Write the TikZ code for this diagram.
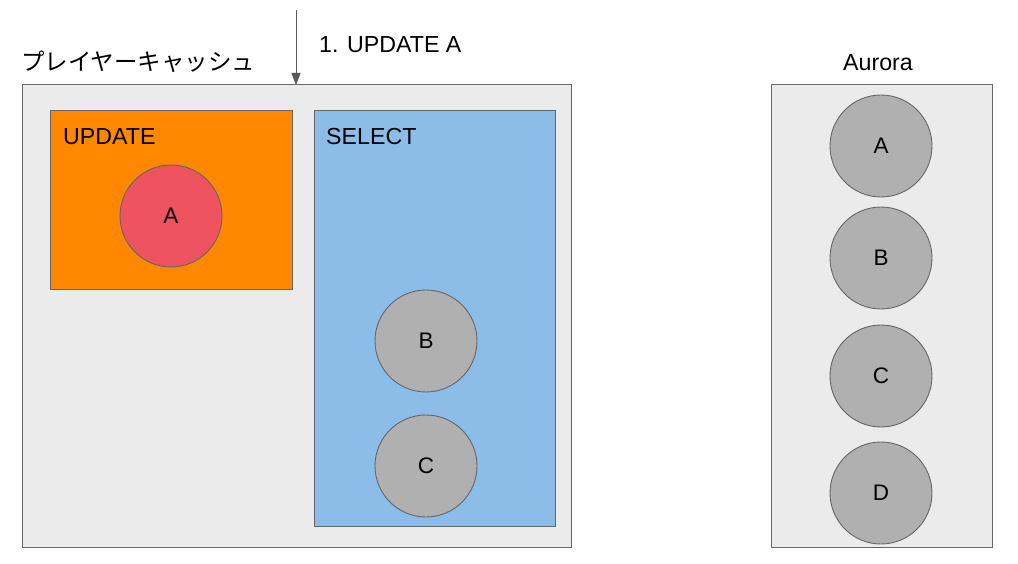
\documentclass[tikz,border=0pt]{standalone}
\usepackage{fontspec}
\setmainfont{Liberation Sans}
\newfontfamily\cjk{Noto Sans CJK JP}
\usetikzlibrary{arrows.meta}
\definecolor{boxgray}{HTML}{EBEBEB}
\definecolor{edgegray}{HTML}{666666}
\definecolor{orng}{HTML}{FF8800}
\definecolor{redc}{HTML}{EF535F}
\definecolor{bluebox}{HTML}{8BBDE8}
\definecolor{circgray}{HTML}{B0B0B0}
\definecolor{arrgray}{HTML}{595959}
\tikzset{
  panel/.style={draw=edgegray, line width=1pt},
  ball/.style={circle, draw=edgegray, line width=0.9pt, minimum size=102pt, inner sep=0pt, font=\fontsize{22.5}{26}\selectfont},
  lbl/.style={inner sep=0pt, font=\fontsize{23.2}{27}\selectfont},
}
\begin{document}
\begin{tikzpicture}[x=1pt,y=-1pt]
\useasboundingbox (0,0) rectangle (1018,564);
% main cache panel
\draw[panel, fill=boxgray] (22,85) rectangle (571,547);
\coordinate (cacheTop) at (296,85);
\node[lbl, anchor=base west, font=\cjk\fontsize{23.5}{27}\selectfont] (cache) at (21,71) {プレイヤーキャッシュ};
% update box
\draw[panel, fill=orng] (50,111) rectangle (292,290);
\node[lbl, anchor=base west] (upd) at (63,145) {UPDATE};
\node[ball, fill=redc] (a1) at (171,216) {A};
% select box
\draw[panel, fill=bluebox] (314,111) rectangle (555,526);
\node[lbl, anchor=base west] (sel) at (326,145) {SELECT};
\node[ball, fill=circgray] (b1) at (426,341) {B};
\node[ball, fill=circgray] (c1) at (426,466) {C};
% arrow
\coordinate (arrStart) at (296,10);
\draw[arrgray, line width=1pt, -{Triangle[length=12pt,width=9pt]}] (arrStart) -- (cacheTop);
\node[lbl, anchor=base west] (step1) at (319,53) {1. UPDATE A};
% aurora
\draw[panel, fill=boxgray] (771,85) rectangle (992,547);
\node[lbl, anchor=base] (aur) at (878,71) {Aurora};
\node[ball, fill=circgray] (a2) at (881,146) {A};
\node[ball, fill=circgray] (b2) at (881,258) {B};
\node[ball, fill=circgray] (c2) at (881,376) {C};
\node[ball, fill=circgray] (d2) at (881,493) {D};
\end{tikzpicture}
\end{document}
